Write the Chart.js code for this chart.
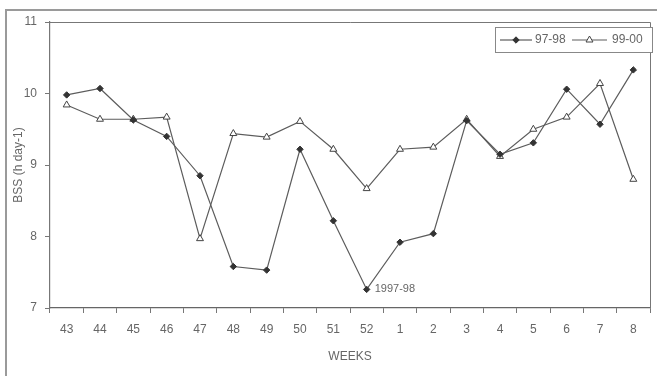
<!DOCTYPE html>
<html>
<head>
<meta charset="utf-8">
<script src="https://cdn.jsdelivr.net/npm/chart.js@4/dist/chart.umd.min.js"></script>
<style>
  html, body { margin: 0; padding: 0; background: #fff; }
  #wrap { width: 657px; height: 376px; position: relative; }
</style>
</head>
<body>
<div id="wrap"><canvas id="c" width="657" height="376"></canvas></div>
<script>
// Weekly BSS values (h day-1), two seasons
const weeks = ['43','44','45','46','47','48','49','50','51','52','1','2','3','4','5','6','7','8'];
const bss9798 = [9.98, 10.07, 9.63, 9.40, 8.85, 7.58, 7.53, 9.22, 8.22, 7.26, 7.92, 8.04, 9.62, 9.15, 9.31, 10.06, 9.57, 10.33];
const bss9900 = [9.84, 9.64, 9.64, 9.67, 7.97, 9.44, 9.39, 9.61, 9.22, 8.67, 9.22, 9.25, 9.64, 9.12, 9.50, 9.67, 10.14, 8.80];
const seriesNames = ['97-98', '99-00'];
const yTicks = [7, 8, 9, 10, 11];
const noteText = '1997-98';
const noteWeek = '52';

const ink = '#5c5c5c';
const textInk = '#666';
const fontFamily = '"Liberation Sans", Arial, sans-serif';

// Frame, plot box, legend and point note
const decor = {
  id: 'decor',
  beforeDraw(chart) {
    const ctx = chart.ctx;
    ctx.save();
    ctx.fillStyle = '#fff';
    ctx.fillRect(0, 0, chart.width, chart.height);
    ctx.strokeStyle = '#9a9a9a';
    ctx.lineWidth = 2;
    ctx.beginPath();
    ctx.moveTo(6, 376);
    ctx.lineTo(6, 10);
    ctx.lineTo(657, 10);
    ctx.stroke();
    ctx.restore();
  },
  afterDatasetsDraw(chart) {
    const ctx = chart.ctx;
    const a = chart.chartArea;
    ctx.save();
    ctx.strokeStyle = '#777';
    ctx.lineWidth = 1;
    ctx.beginPath();
    ctx.moveTo(a.left, a.top + 0.5);
    ctx.lineTo(a.right + 0.5, a.top + 0.5);
    ctx.lineTo(a.right + 0.5, a.bottom);
    ctx.stroke();

    // note next to the lowest 97-98 point
    const xs = chart.scales.x, ys = chart.scales.y;
    const i = weeks.indexOf(noteWeek);
    const px = xs.getPixelForValue(i);
    const py = ys.getPixelForValue(bss9798[i]);
    ctx.fillStyle = textInk;
    ctx.font = '11px ' + fontFamily;
    ctx.textBaseline = 'middle';
    ctx.textAlign = 'left';
    ctx.fillText(noteText, px + 8, py);

    // legend box
    const bx = 495, by = 27, bw = 157, bh = 25;
    ctx.fillStyle = '#fff';
    ctx.fillRect(bx, by, bw, bh);
    ctx.strokeStyle = '#888';
    ctx.lineWidth = 1;
    ctx.strokeRect(bx + 0.5, by + 0.5, bw, bh);
    const cy = by + bh / 2 + 0.5;
    const items = [
      { x: 500, w: 32, tx: 535, ds: chart.data.datasets[0] },
      { x: 572, w: 35, tx: 612, ds: chart.data.datasets[1] }
    ];
    ctx.font = '12px ' + fontFamily;
    items.forEach(it => {
      ctx.strokeStyle = ink;
      ctx.lineWidth = 1.2;
      ctx.beginPath();
      ctx.moveTo(it.x, cy);
      ctx.lineTo(it.x + it.w, cy);
      ctx.stroke();
      ctx.fillStyle = it.ds.pointBackgroundColor;
      ctx.strokeStyle = it.ds.pointBorderColor;
      ctx.lineWidth = it.ds.pointBorderWidth;
      Chart.helpers.drawPoint(ctx, {
        pointStyle: it.ds.pointStyle,
        radius: it.ds.pointRadius,
        borderWidth: it.ds.pointBorderWidth
      }, it.x + it.w / 2, cy);
      ctx.fillStyle = textInk;
      ctx.textAlign = 'left';
      ctx.fillText(it.ds.label, it.tx, cy);
    });
    ctx.restore();
  }
};

new Chart(document.getElementById('c'), {
  type: 'line',
  data: {
    labels: weeks,
    datasets: [
      {
        label: seriesNames[0],
        data: bss9798,
        borderColor: ink,
        borderWidth: 1.2,
        pointStyle: 'rectRot',
        pointRadius: 3.2,
        pointBorderWidth: 1,
        pointBackgroundColor: '#333',
        pointBorderColor: '#333',
        tension: 0
      },
      {
        label: seriesNames[1],
        data: bss9900,
        borderColor: ink,
        borderWidth: 1.2,
        pointStyle: 'triangle',
        pointRadius: 4,
        pointBorderWidth: 1,
        pointBackgroundColor: '#fff',
        pointBorderColor: '#444',
        tension: 0
      }
    ]
  },
  options: {
    responsive: false,
    animation: false,
    devicePixelRatio: 1,
    layout: { padding: { top: 22, right: 7, left: 0, bottom: 0 } },
    plugins: {
      legend: { display: false },
      tooltip: { enabled: false }
    },
    scales: {
      x: {
        offset: true,
        grid: { offset: true, drawOnChartArea: false, drawTicks: true, tickLength: 5, color: '#777' },
        border: { display: true, color: '#666', width: 1.2 },
        ticks: { color: textInk, font: { family: fontFamily, size: 12 }, padding: 9, maxRotation: 0, autoSkip: false },
        title: { display: true, text: 'WEEKS', color: textInk, font: { family: fontFamily, size: 12 }, padding: { top: 4, bottom: 12 } },
        afterFit(s) { s.height = 68; }
      },
      y: {
        min: 7,
        max: 11,
        afterBuildTicks(s) { s.ticks = yTicks.map(v => ({ value: v })); },
        grid: { drawOnChartArea: false, drawTicks: true, tickLength: 5, color: '#777' },
        border: { display: true, color: '#777', width: 1.2 },
        ticks: { color: textInk, font: { family: fontFamily, size: 12 }, padding: 8 },
        title: { display: true, text: 'BSS (h day-1)', color: textInk, font: { family: fontFamily, size: 12 }, padding: { top: 11, bottom: 0 } },
        afterFit(s) { s.width = 50; }
      }
    }
  },
  plugins: [decor]
});
</script>
</body>
</html>
